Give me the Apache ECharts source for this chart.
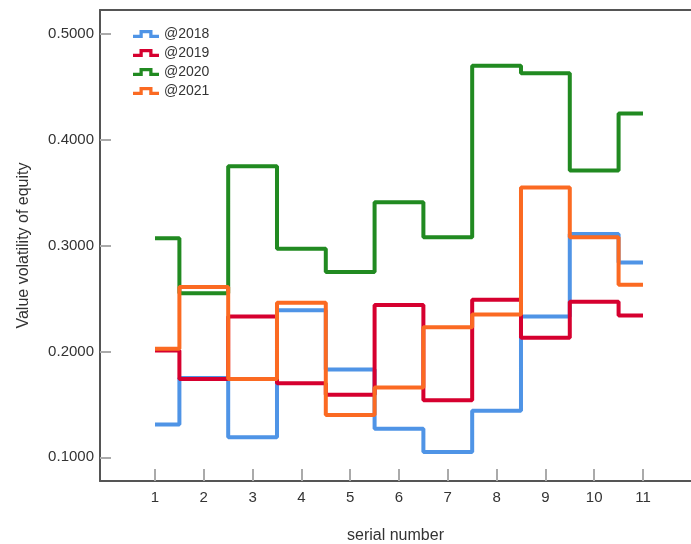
<!DOCTYPE html>
<html>
<head>
<meta charset="utf-8">
<script src="https://cdn.jsdelivr.net/npm/echarts@6/dist/echarts.min.js"></script>
<style>
html,body{margin:0;padding:0;background:#fff;}
#chart{width:691px;height:544px;}
</style>
</head>
<body>
<div id="chart"></div>
<script>
const serials = [1, 2, 3, 4, 5, 6, 7, 8, 9, 10, 11];
const yTicks = [0.1, 0.2, 0.3, 0.4, 0.5];
const seriesNames = ['@2018', '@2019', '@2020', '@2021'];
const v2018 = [0.131, 0.175, 0.119, 0.239, 0.183, 0.127, 0.105, 0.144, 0.233, 0.311, 0.284];
const v2019 = [0.201, 0.174, 0.233, 0.170, 0.159, 0.244, 0.154, 0.249, 0.213, 0.247, 0.234];
const v2020 = [0.307, 0.255, 0.375, 0.297, 0.275, 0.341, 0.308, 0.470, 0.463, 0.371, 0.425];
const v2021 = [0.2025, 0.261, 0.174, 0.246, 0.140, 0.166, 0.223, 0.235, 0.355, 0.308, 0.263];
const colors = ['#4f94e6', '#d6002f', '#218a21', '#fb6a22'];

const allValues = [v2018, v2019, v2020, v2021];
const iconPath = 'path://M0,6 L8,6 L8,0 L24,0 L24,6 L32,6 L32,10 L20,10 L20,4 L12,4 L12,10 L0,10 Z';

const chart = echarts.init(document.getElementById('chart'), null, {renderer: 'canvas'});
const font = 'Liberation Sans, Arial, sans-serif';
chart.setOption({
  animation: false,
  backgroundColor: '#ffffff',
  grid: {left: 100, top: 10, right: 0, bottom: 63, containLabel: false, outerBoundsMode: 'none'},
  legend: {
    orient: 'vertical',
    left: 133,
    top: 27,
    padding: 0,
    itemWidth: 26,
    itemHeight: 9,
    itemGap: 5,
    icon: iconPath,
    textStyle: {fontFamily: font, fontSize: 14, color: '#333'},
    data: seriesNames.map((n, i) => ({name: n, itemStyle: {color: colors[i]}}))
  },
  xAxis: [{
    type: 'value',
    min: -0.127,
    max: 11.984,
    name: 'serial number',
    nameLocation: 'middle',
    nameGap: 47,
    nameTextStyle: {fontFamily: font, fontSize: 16, color: '#333'},
    axisLine: {show: true, onZero: false, lineStyle: {color: '#555', width: 2}},
    axisTick: {show: true, inside: true, length: 12, customValues: serials, lineStyle: {color: '#aaa', width: 2}},
    axisLabel: {customValues: serials, margin: 9, fontFamily: font, fontSize: 15, color: '#333'},
    splitLine: {show: false}
  }, {
    type: 'value',
    position: 'top',
    min: -0.127,
    max: 11.984,
    axisLine: {show: true, onZero: false, lineStyle: {color: '#555', width: 2}},
    axisTick: {show: false},
    axisLabel: {show: false},
    splitLine: {show: false}
  }],
  yAxis: {
    type: 'value',
    min: 0.0776,
    max: 0.5227,
    name: 'Value volatility of equity',
    nameLocation: 'middle',
    nameGap: 68,
    nameTextStyle: {fontFamily: font, fontSize: 16, color: '#333'},
    axisLine: {show: true, onZero: false, lineStyle: {color: '#555', width: 2}},
    axisTick: {show: true, inside: true, length: 11, customValues: yTicks, lineStyle: {color: '#aaa', width: 2}},
    axisLabel: {customValues: yTicks, margin: 6, fontFamily: font, fontSize: 15, color: '#333',
      formatter: v => v.toFixed(4)},
    splitLine: {show: false}
  },
  series: seriesNames.map((n, i) => ({
    name: n,
    type: 'line',
    step: 'middle',
    xAxisIndex: 0,
    symbol: 'none',
    lineStyle: {color: colors[i], width: 4},
    itemStyle: {color: colors[i]},
    data: serials.map((s, j) => [s, allValues[i][j]])
  }))
});
</script>
</body>
</html>
